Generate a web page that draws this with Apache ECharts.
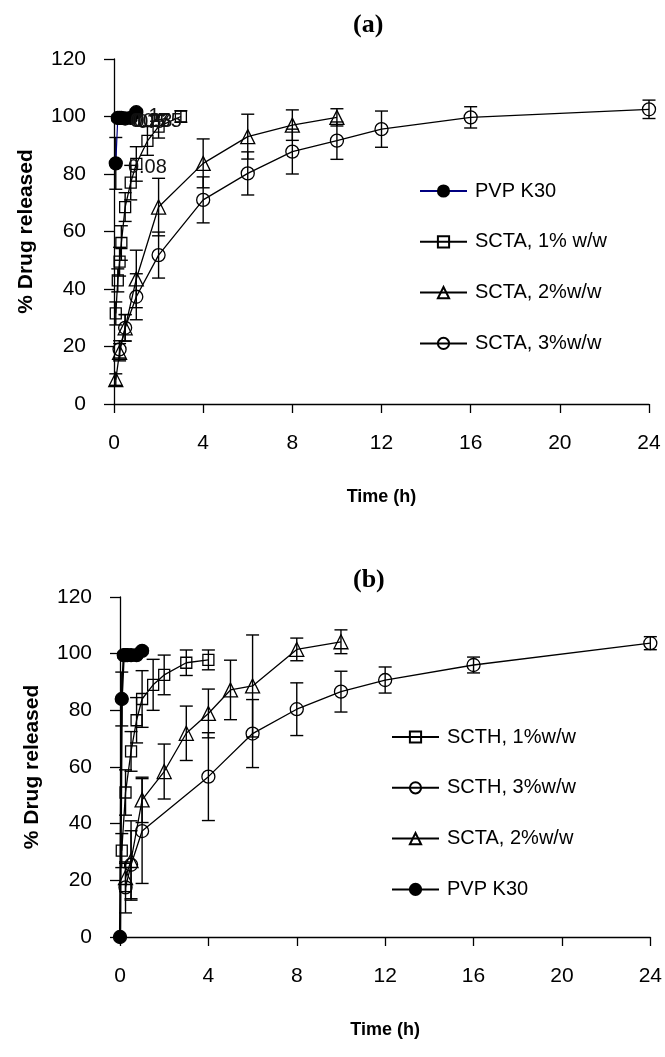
<!DOCTYPE html>
<html><head><meta charset="utf-8">
<script src="https://cdn.jsdelivr.net/npm/echarts@6/dist/echarts.min.js"></script>
<style>html,body{margin:0;padding:0;background:#fff}#c{width:665px;height:1057px}</style>
</head><body><div id="c"></div>
<script>
// ---------- Chart (a) ----------
const pvpA_t = [0.08, 0.17, 0.25, 0.33, 0.5, 0.75, 1];
const pvpA_v = [83.7, 99.5, 99.5, 99.5, 99.3, 99.5, 101.5];
const pvpA_e = [9, 1, 1, 1, 1, 1, 1];
const pvpA_lbl = ["0.08", "0.17", "0.25", "0.33", "0.5", "0.75", "1"];

const scta1A_t = [0.08, 0.17, 0.25, 0.33, 0.5, 0.75, 1, 1.5, 2, 3];
const scta1A_v = [31.5, 43, 49.5, 56, 68.5, 77, 83.5, 91.5, 96.5, 100];
const scta1A_e = [4, 4, 5, 6, 5, 6, 6, 5, 4, 2];

const scta2A_t = [0.08, 0.25, 0.5, 1, 2, 4, 6, 8, 10];
const scta2A_v = [8.5, 18, 26.5, 43.5, 68.5, 83.7, 93, 97, 99.7];
const scta2A_e = [2, 3, 4.6, 10, 10, 8.5, 7.8, 5.3, 3];

const scta3A_t = [0.25, 0.5, 1, 2, 4, 6, 8, 10, 12, 16, 24];
const scta3A_v = [19, 26.5, 37.3, 51.8, 71, 80.2, 87.8, 91.6, 95.6, 99.7, 102.5];
const scta3A_e = [3, 4.6, 8, 8, 8, 7.5, 7.8, 6.5, 6.3, 3.7, 3.2];

// ---------- Chart (b) ----------
const pvpB_t = [0, 0.08, 0.17, 0.25, 0.33, 0.5, 0.75, 1];
const pvpB_v = [0, 84, 99.5, 99.5, 99.5, 99.5, 99.5, 101];
const pvpB_e = [0, 9.5, 1, 1, 1, 1, 1, 1];

const scth1B_t = [0.08, 0.25, 0.5, 0.75, 1, 1.5, 2, 3, 4];
const scth1B_v = [30.5, 51, 65.5, 76.5, 84, 89, 92.5, 96.8, 97.8];
const scth1B_e = [6, 8, 7, 8, 10, 9, 7, 4.5, 3.5];

const scth3B_t = [0.25, 0.5, 1, 4, 6, 8, 10, 12, 16, 24];
const scth3B_v = [17.5, 25.5, 37.4, 56.6, 71.8, 80.4, 86.6, 90.7, 96, 103.7];
const scth3B_e = [9, 12, 18.5, 15.5, 12, 9.3, 7.2, 4.6, 2.8, 2.3];

const scta2B_t = [0.25, 0.5, 1, 2, 3, 4, 5, 6, 8, 10];
const scta2B_v = [21, 27, 48.4, 58.4, 71.9, 78.9, 87.2, 88.6, 101.5, 104.2];
const scta2B_e = [5, 14, 8, 9.7, 9.6, 8.6, 10.5, 18, 4, 4.2];

const xTicks = [0, 4, 8, 12, 16, 20, 24];
const yTicks = [0, 20, 40, 60, 80, 100, 120];

const FONT = "'Liberation Sans', Arial, sans-serif";
const SERIF = "'Liberation Serif', 'Times New Roman', serif";
const BLACK = '#000';

function pairs(t, v) { return t.map((x, i) => [x, v[i]]); }

function lineSeries(name, gi, t, v, symbol, size, opts) {
  opts = opts || {};
  return Object.assign({
    name: name, type: 'line', xAxisIndex: gi, yAxisIndex: gi,
    data: pairs(t, v), symbol: symbol, symbolSize: size,
    showAllSymbol: true, animation: false, z: 3,
    lineStyle: { color: opts.lineColor || BLACK, width: opts.lineWidth || 1.3 },
    itemStyle: { color: opts.fill || 'rgba(255,255,255,0)', borderColor: BLACK, borderWidth: 1.3 },
    emphasis: { disabled: true }
  }, opts.extra || {});
}

function errSeries(gi, t, v, e) {
  return {
    type: 'custom', xAxisIndex: gi, yAxisIndex: gi, silent: true, z: 4, animation: false,
    data: t.map((x, i) => [x, v[i] - e[i], v[i] + e[i]]),
    encode: { x: 0, y: [1, 2] },
    renderItem: function (params, api) {
      const lo = api.coord([api.value(0), api.value(1)]);
      const hi = api.coord([api.value(0), api.value(2)]);
      const w = 6.5;
      const st = { stroke: BLACK, lineWidth: 1.4 };
      return { type: 'group', children: [
        { type: 'line', shape: { x1: lo[0], y1: lo[1], x2: hi[0], y2: hi[1] }, style: st },
        { type: 'line', shape: { x1: lo[0] - w, y1: lo[1], x2: lo[0] + w, y2: lo[1] }, style: st },
        { type: 'line', shape: { x1: hi[0] - w, y1: hi[1], x2: hi[0] + w, y2: hi[1] }, style: st }
      ] };
    }
  };
}

function xAxis(gi) {
  return {
    gridIndex: gi, type: 'value', min: xTicks[0], max: xTicks[xTicks.length - 1], interval: 4,
    axisLine: { onZero: false, lineStyle: { color: BLACK, width: 1.3 } },
    axisTick: { length: 9, lineStyle: { color: BLACK, width: 1.3 } },
    axisLabel: { margin: 29, color: BLACK, fontSize: 21, fontFamily: FONT },
    splitLine: { show: false },
    name: 'Time (h)', nameLocation: 'middle', nameGap: 84,
    nameTextStyle: { color: BLACK, fontSize: 18, fontWeight: 'bold', fontFamily: FONT }
  };
}
function yAxis(gi) {
  return {
    gridIndex: gi, type: 'value', min: yTicks[0], max: yTicks[yTicks.length - 1], interval: 20,
    axisLine: { show: true, onZero: false, lineStyle: { color: BLACK, width: 1.3 } },
    axisTick: { show: true, length: 10, lineStyle: { color: BLACK, width: 1.3 } },
    axisLabel: { margin: 28, color: BLACK, fontSize: 21, fontFamily: FONT },
    splitLine: { show: false },
    name: '% Drug released', nameLocation: 'middle', nameGap: 77, nameRotate: 90,
    nameTextStyle: { color: BLACK, fontSize: 21, fontWeight: 'bold', fontFamily: FONT }
  };
}

const legendBase = {
  orient: 'vertical', itemWidth: 47, itemHeight: 14, itemGap: 30.8, padding: 0,
  selectedMode: false,
  textStyle: { fontSize: 20, lineHeight: 20, color: BLACK, fontFamily: FONT, padding: [0, 0, 0, 3] }
};

const chart = echarts.init(document.getElementById('c'), null, { renderer: 'canvas' });
chart.setOption({
  backgroundColor: '#fff',
  animation: false,
  title: [
    { text: '(a)', left: 353, top: 12, padding: 0,
      textStyle: { fontFamily: SERIF, fontWeight: 'bold', fontSize: 26, color: BLACK } },
    { text: '(b)', left: 353, top: 567, padding: 0,
      textStyle: { fontFamily: SERIF, fontWeight: 'bold', fontSize: 26, color: BLACK } }
  ],
  grid: [
    { left: 114, top: 59, width: 535, height: 345, containLabel: false },
    { left: 120, top: 597, width: 533, height: 340, containLabel: false }
  ],
  xAxis: [xAxis(0), xAxis(1)],
  yAxis: [yAxis(0), yAxis(1)],
  legend: [
    Object.assign({}, legendBase, { left: 419, top: 181,
      data: ['PVP K30', 'SCTA, 1% w/w', 'SCTA, 2%w/w', 'SCTA, 3%w/w'] }),
    Object.assign({}, legendBase, { left: 391, top: 727,
      data: ['SCTH, 1%w/w', 'SCTH, 3%w/w', 'SCTA, 2%w/w ', 'PVP K30 '] })
  ],
  series: [
    // (a)
    errSeries(0, pvpA_t, pvpA_v, pvpA_e),
    errSeries(0, scta1A_t, scta1A_v, scta1A_e),
    errSeries(0, scta2A_t, scta2A_v, scta2A_e),
    errSeries(0, scta3A_t, scta3A_v, scta3A_e),
    lineSeries('SCTA, 1% w/w', 0, scta1A_t, scta1A_v, 'rect', 11),
    lineSeries('SCTA, 2%w/w', 0, scta2A_t, scta2A_v, 'triangle', 14),
    lineSeries('SCTA, 3%w/w', 0, scta3A_t, scta3A_v, 'circle', 13),
    lineSeries('PVP K30', 0, pvpA_t, pvpA_v, 'circle', 13, {
      lineColor: '#000080', lineWidth: 1.2, fill: BLACK,
      extra: { z: 5, label: { show: true, position: 'right', distance: 5, offset: [0, 4],
        fontSize: 20, fontFamily: FONT, color: '#111',
        formatter: function (p) { return pvpA_lbl[p.dataIndex]; } } }
    }),
    // (b)
    errSeries(1, pvpB_t, pvpB_v, pvpB_e),
    errSeries(1, scth1B_t, scth1B_v, scth1B_e),
    errSeries(1, scth3B_t, scth3B_v, scth3B_e),
    errSeries(1, scta2B_t, scta2B_v, scta2B_e),
    lineSeries('SCTH, 1%w/w', 1, scth1B_t, scth1B_v, 'rect', 11),
    lineSeries('SCTH, 3%w/w', 1, scth3B_t, scth3B_v, 'circle', 13),
    lineSeries('SCTA, 2%w/w ', 1, scta2B_t, scta2B_v, 'triangle', 14),
    lineSeries('PVP K30 ', 1, pvpB_t, pvpB_v, 'circle', 13, { lineWidth: 2.2, fill: BLACK, extra: { z: 5 } })
  ]
});
</script>
</body></html>
